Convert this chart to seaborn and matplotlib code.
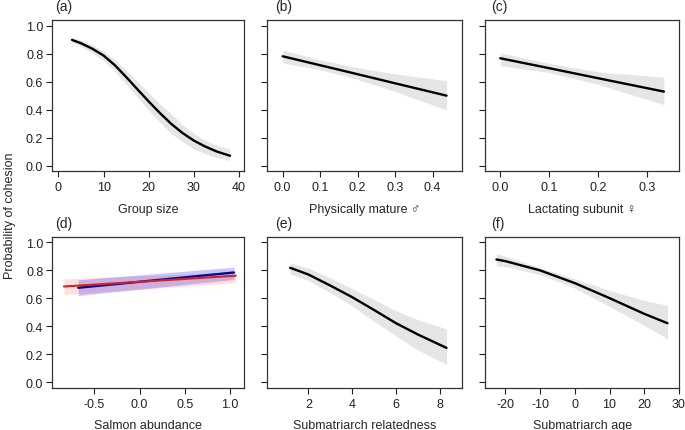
import matplotlib
matplotlib.use("Agg")
import matplotlib.pyplot as plt
import seaborn as sns

# (a) group size
a_x = [3, 5, 7.5, 10, 12.5, 15, 17.5, 20, 22.5, 25, 27.5, 30, 32.5, 35, 38]
a_fit = [0.898, 0.874, 0.835, 0.786, 0.717, 0.633, 0.545, 0.458, 0.375, 0.298, 0.233, 0.179, 0.137, 0.102, 0.071]
a_hi = [0.917, 0.895, 0.862, 0.817, 0.757, 0.682, 0.60, 0.52, 0.44, 0.37, 0.29, 0.23, 0.18, 0.145, 0.119]
a_lo = [0.881, 0.85, 0.806, 0.75, 0.672, 0.582, 0.49, 0.395, 0.31, 0.23, 0.17, 0.12, 0.085, 0.06, 0.036]

# (b) physically mature males
b_x = [0, 0.1, 0.2, 0.3, 0.437]
b_fit = [0.781, 0.717, 0.653, 0.588, 0.50]
b_hi = [0.826, 0.755, 0.70, 0.655, 0.607]
b_lo = [0.733, 0.685, 0.615, 0.53, 0.398]

# (c) lactating subunit
c_x = [0, 0.1, 0.2, 0.3336]
c_fit = [0.767, 0.696, 0.624, 0.529]
c_hi = [0.805, 0.73, 0.67, 0.631]
c_lo = [0.714, 0.665, 0.58, 0.436]

# (d) salmon abundance, two series
d_blue_x = [-0.677, 1.044]
d_blue_fit = [0.674, 0.783]
d_blue_hi = [0.731, 0.821]
d_blue_lo = [0.619, 0.733]
d_red_x = [-0.835, 1.063]
d_red_fit = [0.683, 0.76]
d_red_hi = [0.738, 0.786]
d_red_lo = [0.626, 0.71]

# (e) submatriarch relatedness
e_x = [1.17, 2, 3, 4, 5, 6, 7, 8.3]
e_fit = [0.817, 0.769, 0.69, 0.607, 0.515, 0.421, 0.34, 0.245]
e_hi = [0.852, 0.814, 0.745, 0.667, 0.59, 0.51, 0.445, 0.381]
e_lo = [0.774, 0.726, 0.64, 0.545, 0.435, 0.33, 0.23, 0.126]

# (f) submatriarch age
f_x = [-22.6, -20, -10, 0, 10, 20, 26.7]
f_fit = [0.876, 0.864, 0.798, 0.707, 0.60, 0.488, 0.421]
f_hi = [0.917, 0.90, 0.817, 0.738, 0.655, 0.583, 0.548]
f_lo = [0.831, 0.825, 0.767, 0.671, 0.54, 0.405, 0.31]

letters = ["(a)", "(b)", "(c)", "(d)", "(e)", "(f)"]
xlabels = ["Group size", "Physically mature \u2642", "Lactating subunit \u2640",
           "Salmon abundance", "Submatriarch relatedness", "Submatriarch age"]
xticks = [[0, 10, 20, 30, 40], [0.0, 0.1, 0.2, 0.3, 0.4], [0.0, 0.1, 0.2, 0.3],
          [-0.5, 0.0, 0.5, 1.0], [2, 4, 6, 8], [-20, -10, 0, 10, 20, 30]]
xticklabels = [["0", "10", "20", "30", "40"], ["0.0", "0.1", "0.2", "0.3", "0.4"],
               ["0.0", "0.1", "0.2", "0.3"], ["-0.5", "0.0", "0.5", "1.0"],
               ["2", "4", "6", "8"], ["-20", "-10", "0", "10", "20", "30"]]
xlims = [(-1.5, 41.1), (-0.041, 0.479), (-0.031, 0.365), (-0.97, 1.154), (0.13, 9.02), (-25.9, 30.1)]
yticks = [0.0, 0.2, 0.4, 0.6, 0.8, 1.0]
yticklabels = ["0.0", "0.2", "0.4", "0.6", "0.8", "1.0"]

sns.set_theme(style="ticks")
plt.rcParams["font.family"] = ["Liberation Sans", "DejaVu Sans"]
plt.rcParams["axes.unicode_minus"] = False

W, H = 685, 431
fig = plt.figure(figsize=(W / 100, H / 100), dpi=100)

lefts = [51.7, 267.3, 485]
widths = [192.3, 195, 194.3]
tops = [21, 237.5]
h = 151.3
letter_x = [55, 275, 491]
letter_top = [0, 217]
axes = []
for r in range(2):
    for c in range(3):
        ax = fig.add_axes([lefts[c] / W, 1 - (tops[r] + h) / H, widths[c] / W, h / H])
        axes.append(ax)
        fig.text(letter_x[c] / W, 1 - letter_top[r] / H, letters[r * 3 + c],
                 fontsize=10, ha="left", va="top")

band = "#E5E5E5"
single = [(a_x, a_fit, a_hi, a_lo), (b_x, b_fit, b_hi, b_lo), (c_x, c_fit, c_hi, c_lo),
          None, (e_x, e_fit, e_hi, e_lo), (f_x, f_fit, f_hi, f_lo)]

for i, ax in enumerate(axes):
    if single[i] is not None:
        x, fit, hi, lo = single[i]
        ax.fill_between(x, lo, hi, color=band, lw=0)
        sns.lineplot(x=x, y=fit, ax=ax, color="black", lw=1.7, estimator=None)
    else:
        ax.fill_between(d_blue_x, d_blue_lo, d_blue_hi, color="blue", alpha=0.22, lw=0)
        ax.fill_between(d_red_x, d_red_lo, d_red_hi, color="red", alpha=0.12, lw=0)
        sns.lineplot(x=d_blue_x, y=d_blue_fit, ax=ax, color="#0a0a8a", lw=1.7, estimator=None)
        sns.lineplot(x=d_red_x, y=d_red_fit, ax=ax, color="#CD2626", lw=1.5, estimator=None)

    ax.set_xlim(*xlims[i])
    ax.set_ylim(-0.04, 1.04)
    ax.set_xticks(xticks[i])
    ax.set_xticklabels(xticklabels[i], fontsize=9)
    ax.set_yticks(yticks)
    if i % 3 == 0:
        ax.set_yticklabels(yticklabels, fontsize=9)
    else:
        ax.set_yticklabels([])
    ax.tick_params(direction="out", length=4, width=0.8, pad=2, colors="#222222")
    ax.tick_params(axis="x", pad=3)
    for s in ax.spines.values():
        s.set_visible(True)
        s.set_color("#333333")
        s.set_linewidth(0.9)
    ax.grid(False)
    ax.set_xlabel(xlabels[i], fontsize=9, labelpad=7)
    ax.set_ylabel("")

fig.text(10 / W, 0.5, "Probability of cohesion", rotation=90, fontsize=9,
         ha="center", va="center")

fig.savefig("out.png", dpi=100)
